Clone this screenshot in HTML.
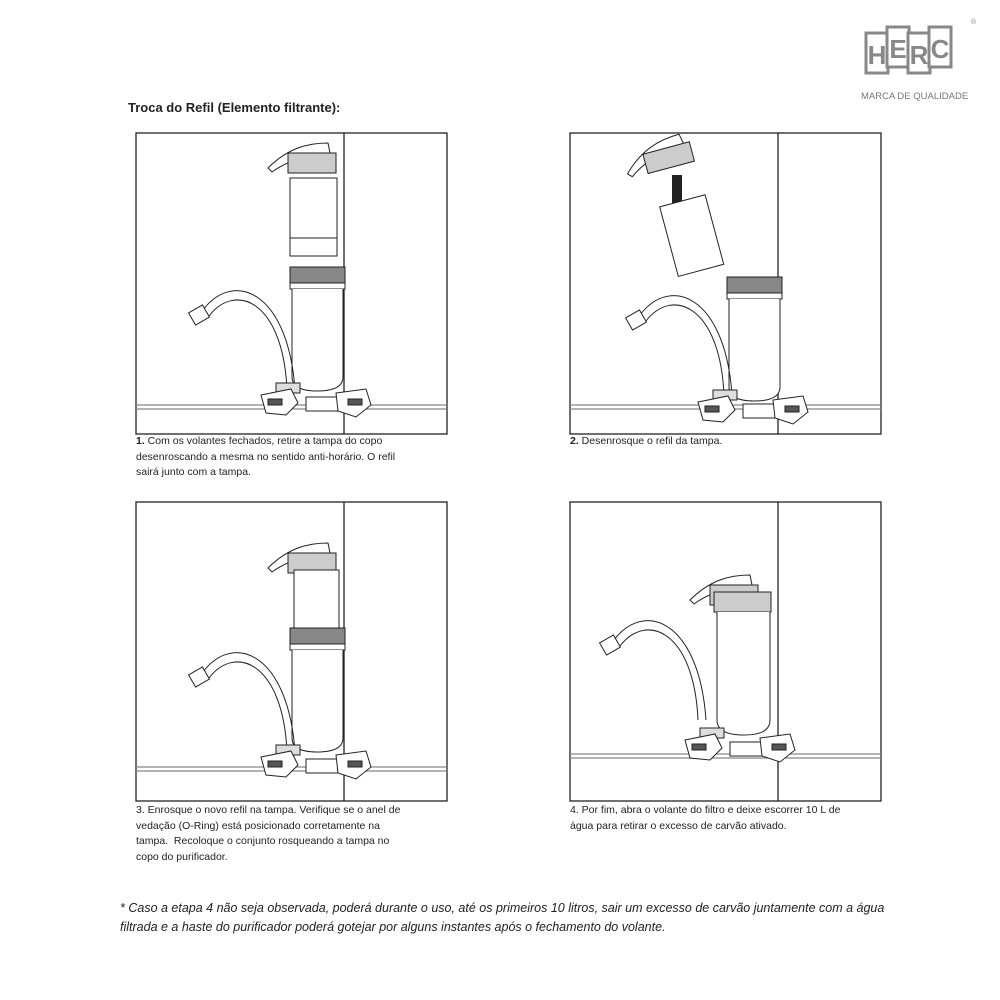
<!DOCTYPE html>
<html><head><meta charset="utf-8"><style>
body{margin:0;background:#fff;width:1000px;height:1000px;position:relative;font-family:"Liberation Sans",sans-serif;overflow:hidden}
.t{position:absolute;font-size:10.5px;line-height:15.5px;color:#222;white-space:nowrap}
</style></head><body>
<svg width="1000" height="1000" style="position:absolute;left:0;top:0">
<defs>
<g id="valves" stroke="#222" stroke-width="1" fill="#fff">
<rect x="0" y="0" width="24" height="10" fill="#ddd"/>
<path d="M-15 12 L15 6 L22 20 L10 32 L-10 30 Z"/>
<rect x="30" y="14" width="40" height="14"/>
<path d="M60 10 L90 6 L95 22 L80 34 L62 28 Z"/>
<rect x="-8" y="16" width="14" height="6" fill="#555"/>
<rect x="72" y="16" width="14" height="6" fill="#555"/>
</g>
<g id="spout" fill="none" stroke="#222" stroke-width="1">
<path d="M0 0 C30 -40 85 -20 92 80"/>
<path d="M6 6 C32 -28 80 -10 84 80"/>
<rect x="-12" y="-2" width="16" height="14" transform="rotate(-30 -4 5)" fill="#fff"/>
</g>
<g id="cup" stroke="#222" stroke-width="1" fill="#fff">
<rect x="0" y="0" width="55" height="16" fill="#888"/>
<rect x="0" y="16" width="55" height="6"/>
<path d="M2 22 L2 110 Q2 124 27 124 Q53 124 53 110 L53 22"/>
</g>
<g id="cap" stroke="#222" stroke-width="1" fill="#fff">
<path d="M0 20 C20 0 40 -5 60 -5 L62 5 L40 8 C25 12 12 18 4 24 Z"/>
<rect x="20" y="5" width="48" height="20" fill="#ccc"/>
</g>
</defs>
<g fill="none" stroke="#222" stroke-width="1.3">
<rect x="136" y="133" width="311" height="301"/>
<rect x="570" y="133" width="311" height="301"/>
<rect x="136" y="502" width="311" height="299"/>
<rect x="570" y="502" width="311" height="299"/>
<line x1="344" y1="133" x2="344" y2="434"/>
<line x1="778" y1="133" x2="778" y2="434"/>
<line x1="344" y1="502" x2="344" y2="801"/>
<line x1="778" y1="502" x2="778" y2="801"/>
</g>
<g stroke="#888" stroke-width="1.2">
<line x1="136" y1="405" x2="447" y2="405"/><line x1="136" y1="409" x2="447" y2="409"/>
<line x1="570" y1="405" x2="881" y2="405"/><line x1="570" y1="409" x2="881" y2="409"/>
<line x1="136" y1="767" x2="447" y2="767"/><line x1="136" y1="771" x2="447" y2="771"/>
<line x1="570" y1="754" x2="881" y2="754"/><line x1="570" y1="758" x2="881" y2="758"/>
</g>
<use href="#cap" x="268" y="148"/>
<rect x="290" y="178" width="47" height="78" fill="#fff" stroke="#222"/>
<line x1="290" y1="238" x2="337" y2="238" stroke="#222"/>
<use href="#cup" x="290" y="267"/>
<use href="#spout" x="203" y="310"/>
<use href="#valves" x="276" y="383"/>
<g transform="rotate(-15 660 160)"><use href="#cap" x="625" y="145"/></g>
<rect x="672" y="175" width="10" height="28" fill="#222"/>
<g transform="rotate(-15 690 235)"><rect x="668" y="200" width="47" height="72" fill="#fff" stroke="#222"/></g>
<use href="#cup" x="727" y="277"/>
<use href="#spout" x="640" y="315"/>
<use href="#valves" x="713" y="390"/>
<use href="#cap" x="268" y="548"/>
<rect x="294" y="570" width="45" height="60" fill="#fff" stroke="#222"/>
<use href="#cup" x="290" y="628"/>
<use href="#spout" x="203" y="672"/>
<use href="#valves" x="276" y="745"/>
<use href="#cap" x="690" y="580"/>
<rect x="714" y="592" width="57" height="20" fill="#ccc" stroke="#222"/>
<path d="M717 612 L717 720 Q717 735 744 735 Q770 735 770 720 L770 612" fill="#fff" stroke="#222"/>
<use href="#spout" x="614" y="640"/>
<use href="#valves" x="700" y="728"/>
<g fill="#fff" stroke="#888" stroke-width="3">
<rect x="866" y="33" width="22" height="40"/><rect x="887" y="27" width="22" height="40"/>
<rect x="908" y="33" width="22" height="40"/><rect x="929" y="27" width="22" height="40"/>
</g>
<g font-family="Liberation Sans" font-weight="bold" font-size="26" fill="#888" text-anchor="middle">
<text x="877" y="64">H</text><text x="898" y="58">E</text><text x="919" y="64">R</text><text x="940" y="58">C</text>
</g>
<text x="971" y="24" font-size="7" fill="#888" font-family="Liberation Sans">®</text>
</svg>
<div class="t" style="left:861px;top:89px;font-size:9.5px;color:#777">MARCA DE QUALIDADE</div>
<div class="t" style="left:128px;top:100px;font-size:13px;font-weight:bold">Troca do Refil (Elemento filtrante):</div>
<div class="t" style="left:136px;top:434px"><b>1.</b> Com os volantes fechados, retire a tampa do copo<br>desenroscando a mesma no sentido anti-horário. O refil<br>sairá junto com a tampa.</div>
<div class="t" style="left:570px;top:434px"><b>2.</b> Desenrosque o refil da tampa.</div>
<div class="t" style="left:136px;top:803px">3. Enrosque o novo refil na tampa. Verifique se o anel de<br>vedação (O-Ring) está posicionado corretamente na<br>tampa.&nbsp; Recoloque o conjunto rosqueando a tampa no<br>copo do purificador.</div>
<div class="t" style="left:570px;top:803px">4. Por fim, abra o volante do filtro e deixe escorrer 10 L de<br>água para retirar o excesso de carvão ativado.</div>
<div class="t" style="left:120px;top:899px;width:780px;white-space:normal;font-size:12.5px;line-height:19px;font-style:italic">* Caso a etapa 4 não seja observada, poderá durante o uso, até os primeiros 10 litros, sair um excesso de carvão juntamente com a água filtrada e a haste do purificador poderá gotejar por alguns instantes após o fechamento do volante.</div>
</body></html>
